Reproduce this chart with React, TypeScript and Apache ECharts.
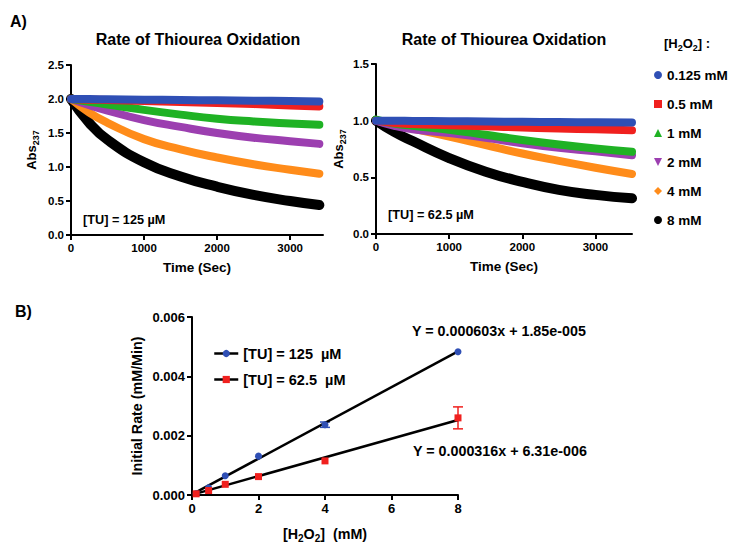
import React, { useEffect, useRef } from 'react';
import * as echarts from 'echarts';

// ---------- data ----------
const concNames = ['0.125 mM', '0.5 mM', '1 mM', '2 mM', '4 mM', '8 mM'];
const concColors = ['#2f4fb5', '#f0201e', '#1fb224', '#9c3fb0', '#ff8c1a', '#000000'];
const concIcons = ['circle', 'rect', 'triangle', 'path://M0,0L10,0L5,10Z', 'diamond', 'circle'];

// Panel A left: [TU] = 125 µM
const timeL = [0, 250, 500, 1000, 1500, 2000, 2500, 3000, 3400];
const absL_0125 = [2.0, 2.0, 1.995, 1.99, 1.985, 1.98, 1.975, 1.97, 1.965];
const absL_05 = [2.0, 1.99, 1.985, 1.97, 1.955, 1.94, 1.925, 1.905, 1.89];
const absL_1 = [2.0, 1.96, 1.92, 1.84, 1.77, 1.71, 1.67, 1.64, 1.62];
const absL_2 = [2.0, 1.91, 1.83, 1.69, 1.59, 1.5, 1.43, 1.38, 1.34];
const absL_4 = [2.0, 1.8, 1.65, 1.41, 1.26, 1.14, 1.04, 0.96, 0.9];
const absL_8 = [2.0, 1.65, 1.4, 1.07, 0.86, 0.71, 0.59, 0.5, 0.44];

// Panel A right: [TU] = 62.5 µM
const timeR = [0, 250, 500, 1000, 1500, 2000, 2500, 3000, 3500];
const absR_0125 = [1.0, 1.0, 0.998, 0.995, 0.993, 0.99, 0.988, 0.985, 0.983];
const absR_05 = [1.0, 0.98, 0.97, 0.96, 0.95, 0.94, 0.93, 0.925, 0.915];
const absR_1 = [1.01, 0.975, 0.955, 0.92, 0.875, 0.83, 0.79, 0.755, 0.725];
const absR_2 = [1.0, 0.955, 0.925, 0.89, 0.85, 0.8, 0.76, 0.73, 0.695];
const absR_4 = [1.0, 0.965, 0.93, 0.86, 0.785, 0.71, 0.645, 0.585, 0.53];
const absR_8 = [1.0, 0.9, 0.82, 0.67, 0.55, 0.46, 0.39, 0.345, 0.315];

const absL = [absL_0125, absL_05, absL_1, absL_2, absL_4, absL_8];
const absR = [absR_0125, absR_05, absR_1, absR_2, absR_4, absR_8];

// Panel B
const h2o2 = [0.125, 0.5, 1, 2, 4, 8];
const rate125 = [0.00005, 0.00024, 0.00065, 0.00131, 0.00237, 0.00483];
const rate625 = [0.00004, 0.00015, 0.00036, 0.00062, 0.00115, 0.0026];
const err125 = [0, 0, 0, 0, 0.00009, 0];
const err625 = [0, 0, 0, 0, 0, 0.00037];
const fitX = [0.125, 8];
const fit125 = [0.0000939, 0.00484];
const fit625 = [0.0000458, 0.00253];
const tuNames = ['[TU] = 125  µM', '[TU] = 62.5  µM'];
const eq125 = 'Y = 0.000603x + 1.85e-005';
const eq625 = 'Y = 0.000316x + 6.31e-006';

const FONT = "'Liberation Sans', Arial, Helvetica, sans-serif";

const subRich = {
  a: { fontSize: 13, fontWeight: 'bold', color: '#000', lineHeight: 18, fontFamily: FONT },
  s: { fontSize: 9, fontWeight: 'bold', color: '#000', lineHeight: 9, verticalAlign: 'bottom', fontFamily: FONT },
};
const subRichB = {
  a: { fontSize: 14.3, fontWeight: 'bold', color: '#000', lineHeight: 19, fontFamily: FONT },
  s: { fontSize: 10, fontWeight: 'bold', color: '#000', lineHeight: 10, verticalAlign: 'bottom', fontFamily: FONT },
};

function axisCommon(fs: number) {
  return {
    axisLine: { show: true, lineStyle: { color: '#000', width: 2 } },
    axisTick: { show: true, length: 5, lineStyle: { color: '#000', width: 2 } },
    splitLine: { show: false },
    axisLabel: { color: '#000', fontWeight: 'bold', fontSize: fs, fontFamily: FONT, margin: 7 },
  };
}

export default function App() {
  const ref = useRef<HTMLDivElement>(null);
  useEffect(() => {
    if (!ref.current) return;
    const chart = echarts.init(ref.current, null, { renderer: 'svg' });

    const series: any[] = [];
    // top panels: draw 8 mM first so 0.125 mM is on top
    for (let i = concNames.length - 1; i >= 0; i--) {
      const w = i === 5 ? 10 : 8;
      series.push({
        name: concNames[i],
        type: 'line',
        xAxisIndex: 0,
        yAxisIndex: 0,
        data: timeL.map((t, k) => [t, absL[i][k]]),
        smooth: true,
        showSymbol: false,
        symbol: concIcons[i],
        clip: false,
        lineStyle: { color: concColors[i], width: w, cap: 'round', join: 'round' },
        itemStyle: { color: concColors[i] },
      });
      series.push({
        name: concNames[i],
        type: 'line',
        xAxisIndex: 1,
        yAxisIndex: 1,
        data: timeR.map((t, k) => [t, absR[i][k]]),
        smooth: true,
        showSymbol: false,
        symbol: concIcons[i],
        clip: false,
        lineStyle: { color: concColors[i], width: w, cap: 'round', join: 'round' },
        itemStyle: { color: concColors[i] },
      });
    }

    // bottom panel: fit lines
    series.push({
      name: 'fit125',
      type: 'line',
      xAxisIndex: 2,
      yAxisIndex: 2,
      data: fitX.map((x, k) => [x, fit125[k]]),
      symbol: 'none',
      silent: true,
      lineStyle: { color: '#000', width: 2.5 },
    });
    series.push({
      name: 'fit625',
      type: 'line',
      xAxisIndex: 2,
      yAxisIndex: 2,
      data: fitX.map((x, k) => [x, fit625[k]]),
      symbol: 'none',
      silent: true,
      lineStyle: { color: '#000', width: 2.5 },
    });

    const errSeries = (name: string, vals: number[], errs: number[], color: string) => ({
      name,
      type: 'custom',
      xAxisIndex: 2,
      yAxisIndex: 2,
      data: h2o2
        .map((x, k) => [x, vals[k] - errs[k], vals[k] + errs[k]])
        .filter((_, k) => errs[k] > 0),
      encode: { x: 0, y: [1, 2] },
      renderItem: (params: any, api: any) => {
        const x = api.value(0);
        const p1 = api.coord([x, api.value(2)]);
        const p2 = api.coord([x, api.value(1)]);
        const w = 5;
        const st = { stroke: color, lineWidth: 1.5 };
        return {
          type: 'group',
          children: [
            { type: 'line', shape: { x1: p1[0], y1: p1[1], x2: p2[0], y2: p2[1] }, style: st },
            { type: 'line', shape: { x1: p1[0] - w, y1: p1[1], x2: p1[0] + w, y2: p1[1] }, style: st },
            { type: 'line', shape: { x1: p2[0] - w, y1: p2[1], x2: p2[0] + w, y2: p2[1] }, style: st },
          ],
        };
      },
      z: 3,
    });
    series.push(errSeries('err125', rate125, err125, '#2f4fb5'));
    series.push(errSeries('err625', rate625, err625, '#f0201e'));

    series.push({
      name: tuNames[0],
      type: 'line',
      xAxisIndex: 2,
      yAxisIndex: 2,
      data: h2o2.map((x, k) => [x, rate125[k]]),
      symbol: 'circle',
      symbolSize: 7,
      lineStyle: { color: '#000', width: 2.5, opacity: 0 },
      itemStyle: { color: '#2f4fb5' },
      z: 4,
    });
    series.push({
      name: tuNames[1],
      type: 'line',
      xAxisIndex: 2,
      yAxisIndex: 2,
      data: h2o2.map((x, k) => [x, rate625[k]]),
      symbol: 'rect',
      symbolSize: 7,
      lineStyle: { color: '#000', width: 2.5, opacity: 0 },
      itemStyle: { color: '#f0201e' },
      z: 4,
    });

    const plain = (v: number) => String(v);
    const topTicks = [0, 1000, 2000, 3000];

    const option: any = {
      animation: false,
      backgroundColor: '#ffffff',
      textStyle: { fontFamily: FONT },
      grid: [
        { left: 71, top: 65, width: 252, height: 170 },
        { left: 376, top: 64, width: 256, height: 170 },
        { left: 192, top: 317, width: 266, height: 178 },
      ],
      xAxis: [
        {
          ...axisCommon(11.5),
          type: 'value', gridIndex: 0, min: 0, max: 3450,
          axisTick: { ...axisCommon(11.5).axisTick, customValues: topTicks },
          axisLabel: { ...axisCommon(11.5).axisLabel, customValues: topTicks, formatter: plain },
          name: 'Time (Sec)', nameLocation: 'middle', nameGap: 25,
          nameTextStyle: { fontSize: 13.5, fontWeight: 'bold', color: '#000' },
        },
        {
          ...axisCommon(11.5),
          type: 'value', gridIndex: 1, min: 0, max: 3500,
          axisTick: { ...axisCommon(11.5).axisTick, customValues: topTicks },
          axisLabel: { ...axisCommon(11.5).axisLabel, customValues: topTicks, formatter: plain },
          name: 'Time (Sec)', nameLocation: 'middle', nameGap: 25,
          nameTextStyle: { fontSize: 13.5, fontWeight: 'bold', color: '#000' },
        },
        {
          ...axisCommon(13),
          type: 'value', gridIndex: 2, min: 0, max: 8, interval: 2,
          axisLabel: { ...axisCommon(13).axisLabel, formatter: plain },
          name: '{a|[H}{s|2}{a|O}{s|2}{a|]  (mM)}', nameLocation: 'middle', nameGap: 29,
          nameTextStyle: { rich: subRichB },
        },
      ],
      yAxis: [
        {
          ...axisCommon(11.5),
          type: 'value', gridIndex: 0, min: 0, max: 2.5, interval: 0.5,
          axisLabel: { ...axisCommon(11.5).axisLabel, formatter: (v: number) => v.toFixed(1) },
          name: '{a|Abs}{s|237}', nameLocation: 'middle', nameGap: 31,
          nameTextStyle: { rich: subRich },
        },
        {
          ...axisCommon(11.5),
          type: 'value', gridIndex: 1, min: 0, max: 1.5, interval: 0.5,
          axisLabel: { ...axisCommon(11.5).axisLabel, formatter: (v: number) => v.toFixed(1) },
          name: '{a|Abs}{s|237}', nameLocation: 'middle', nameGap: 29,
          nameTextStyle: { rich: subRich },
        },
        {
          ...axisCommon(13),
          type: 'value', gridIndex: 2, min: 0, max: 0.006, interval: 0.002,
          axisLabel: { ...axisCommon(13).axisLabel, formatter: (v: number) => v.toFixed(3) },
          name: 'Initial Rate (mM/Min)', nameLocation: 'middle', nameGap: 48,
          nameTextStyle: { fontSize: 14.3, fontWeight: 'bold', color: '#000' },
        },
      ],
      legend: [
        {
          orient: 'vertical',
          left: 649,
          top: 63,
          itemWidth: 8,
          itemHeight: 8,
          itemGap: 15,
          itemTextGap: 14,
          textStyle: { fontSize: 13.5, fontWeight: 'bold', color: '#000', fontFamily: FONT },
          data: concNames.map((n, i) => ({ name: n, icon: concIcons[i], itemStyle: { color: concColors[i] } })),
          selectedMode: false,
        },
        {
          orient: 'vertical',
          left: 208,
          top: 341,
          itemWidth: 24,
          itemHeight: 9,
          itemGap: 11,
          itemTextGap: 6,
          textStyle: { fontSize: 14.5, fontWeight: 'bold', color: '#000', fontFamily: FONT },
          lineStyle: { color: '#000', width: 2.5, opacity: 1 },
          data: tuNames,
          selectedMode: false,
        },
      ],
      graphic: [
        { type: 'text', left: 10, top: 13, style: { text: 'A)', fill: '#000', font: `bold 16px ${FONT}` } },
        { type: 'text', left: 15, top: 303, style: { text: 'B)', fill: '#000', font: `bold 16px ${FONT}` } },
        { type: 'text', x: 198, y: 39, style: { text: 'Rate of Thiourea Oxidation', fill: '#000', font: `bold 16px ${FONT}`, textAlign: 'center', textVerticalAlign: 'middle' } },
        { type: 'text', x: 504, y: 39, style: { text: 'Rate of Thiourea Oxidation', fill: '#000', font: `bold 16px ${FONT}`, textAlign: 'center', textVerticalAlign: 'middle' } },
        { type: 'text', x: 83, y: 220, style: { text: '[TU] = 125 µM', fill: '#000', font: `bold 12.7px ${FONT}`, textVerticalAlign: 'middle' } },
        { type: 'text', x: 388, y: 215, style: { text: '[TU] = 62.5 µM', fill: '#000', font: `bold 12.7px ${FONT}`, textVerticalAlign: 'middle' } },
        {
          type: 'text', x: 664, y: 43,
          style: { text: '{a|[H}{s|2}{a|O}{s|2}{a|] :}', rich: subRich, textVerticalAlign: 'middle' },
        },
        { type: 'text', x: 412, y: 331, style: { text: eq125, fill: '#000', font: `bold 14.3px ${FONT}`, textVerticalAlign: 'middle' } },
        { type: 'text', x: 413, y: 451, style: { text: eq625, fill: '#000', font: `bold 14.3px ${FONT}`, textVerticalAlign: 'middle' } },
      ],
      series,
    };
    chart.setOption(option);
    return () => chart.dispose();
  }, []);
  return <div ref={ref} style={{ position: 'fixed', left: 0, top: 0, width: 750, height: 556 }} />;
}
